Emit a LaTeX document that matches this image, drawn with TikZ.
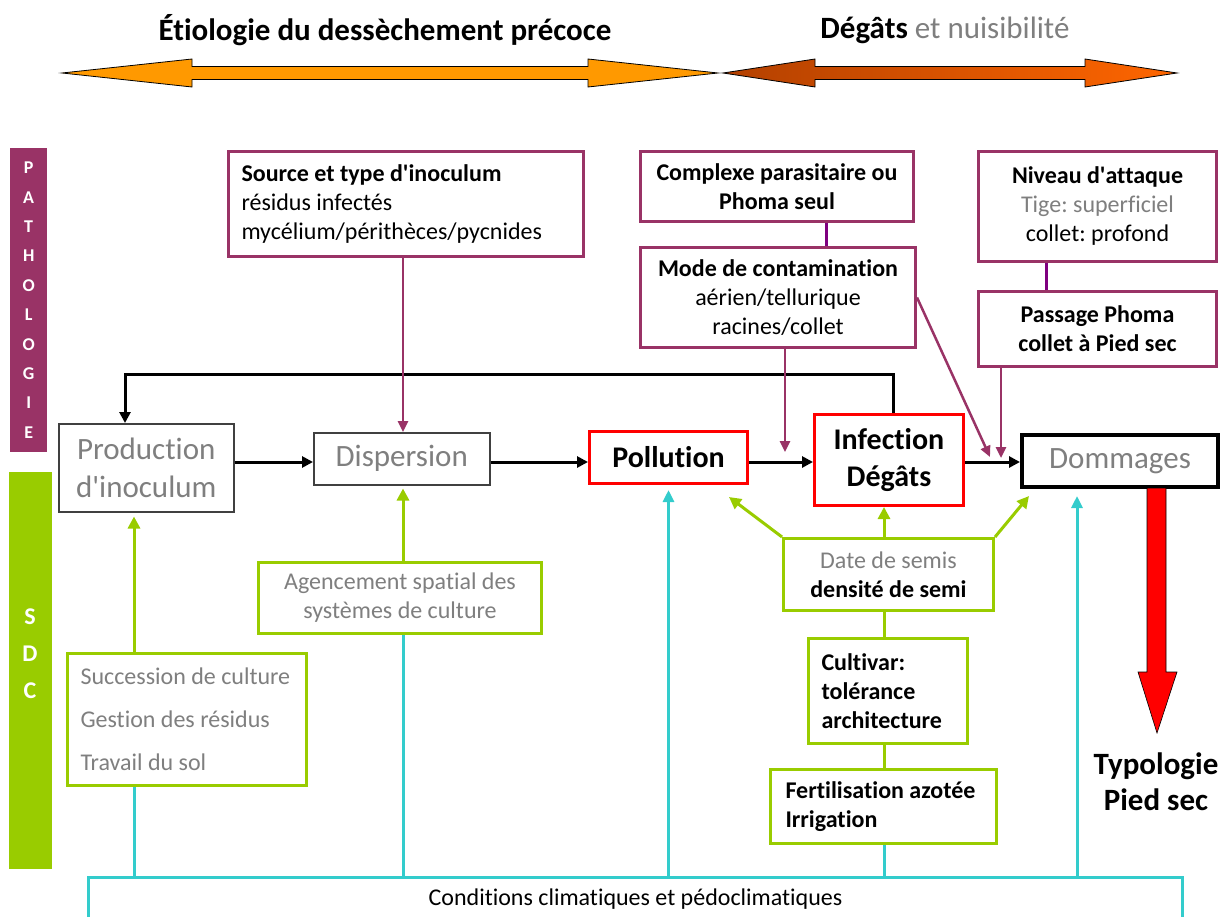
\documentclass[tikz,border=0pt]{standalone}
\usepackage{fontspec}
\setmainfont{Carlito}[RawFeature={-liga;-clig;-calt;-dlig}]
\usepackage{tikz}
\usetikzlibrary{arrows.meta,calc}
\usepackage{xcolor}

\definecolor{plum}{HTML}{993366}
\definecolor{linkpurple}{HTML}{7F007F}
\definecolor{sdcgreen}{HTML}{99CC00}
\definecolor{climcyan}{HTML}{33CCCC}
\definecolor{greytxt}{HTML}{7F7F7F}
\definecolor{etioorange}{HTML}{FF9900}
\definecolor{degatsdark}{HTML}{B34000}
\definecolor{degatslight}{HTML}{FF6600}

\newcommand{\q}{\textquotesingle}
\frenchspacing

\begin{document}
\begin{tikzpicture}[x=1pt, y=-1pt,
    every node/.style={inner sep=0pt},
    pathobox/.style={draw=plum, line width=3pt, fill=white, anchor=north west, align=flush center, font=\fontsize{24}{29}\selectfont},
    sdcbox/.style={draw=sdcgreen, line width=3pt, fill=white, anchor=north west, align=flush center, font=\fontsize{24}{29}\selectfont},
    stepbox/.style={draw=black!75, line width=1.5pt, fill=white, anchor=north west, align=flush center, text=greytxt, font=\fontsize{31}{38}\selectfont},
    keybox/.style={draw=red, line width=3pt, fill=white, anchor=north west, align=flush center, font=\bfseries\fontsize{30}{37}\selectfont},
    flow/.style={line width=3pt, -{Triangle[length=11pt,width=11pt]}},
    pathoarrow/.style={draw=plum, line width=2.5pt, -{Triangle[length=11pt,width=10pt]}},
    patholine/.style={draw=linkpurple, line width=3pt},
    sdcarrow/.style={draw=sdcgreen, line width=3pt, -{Triangle[length=12pt,width=12pt]}},
    sdcline/.style={draw=sdcgreen, line width=3pt},
    climline/.style={draw=climcyan, line width=3pt},
    climarrow/.style={draw=climcyan, line width=3pt, -{Triangle[length=12pt,width=11pt]}, shorten >=5pt}]

    \useasboundingbox (0,0) rectangle (1226,917);

    % Banners
    \node[font=\bfseries\fontsize{31}{36}\selectfont] (etio) at (385,30) {Étiologie du dessèchement précoce};
    \node[font=\fontsize{31}{36}\selectfont] (degats) at (945,30) {\textbf{Dégâts} \textcolor{greytxt}{et nuisibilité}};

    \filldraw[fill=etioorange, draw=black, line width=0.8pt] (62,73) -- (192,59) -- (192,66.5) -- (588,66.5) -- (588,59) -- (718,73) -- (588,87) -- (588,79.5) -- (192,79.5) -- (192,87) -- cycle;
    \shadedraw[left color=degatsdark, right color=degatslight, draw=black, line width=0.8pt] (723,73) -- (815,59) -- (815,66.5) -- (1085,66.5) -- (1085,59) -- (1177,73) -- (1085,87) -- (1085,79.5) -- (815,79.5) -- (815,87) -- cycle;

    % Side bars
    \node[fill=plum, minimum width=37pt, minimum height=304pt, anchor=north west] (pathobar) at (10,148) {};
    \node[text=white, align=center, font=\bfseries\fontsize{18}{29.4}\selectfont] (pathoword) at (pathobar.center) {P\\A\\T\\H\\O\\L\\O\\G\\I\\E};
    \node[fill=sdcgreen, minimum width=43pt, minimum height=397pt, anchor=north west] (sdcbar) at (9,472) {};
    \node[text=white, align=center, font=\bfseries\fontsize{24}{37}\selectfont] (sdcword) at (30,654) {S\\D\\C};

    % Pathologie boxes
    \node[pathobox, align=flush left, inner xsep=13pt, text width=329pt, minimum height=105pt] (source) at (227,150) {\textbf{Source et type d\q inoculum}\\résidus infectés\\mycélium/périthèces/pycnides};
    \node[pathobox, font=\bfseries\fontsize{24}{29}\selectfont, minimum width=273pt, minimum height=70pt] (complexe) at (639,150) {Complexe parasitaire ou\\Phoma seul};
    \node[pathobox, minimum width=275pt, minimum height=100pt] (mode) at (639,246) {\textbf{Mode de contamination}\\aérien/tellurique\\racines/collet};
    \node[pathobox, minimum width=238pt, minimum height=110pt, yshift=3pt] (niveau) at (977,153) {\textbf{Niveau d\q attaque}\\\textcolor{greytxt}{Tige: superficiel}\\collet: profond};
    \node[pathobox, font=\bfseries\fontsize{24}{29}\selectfont, minimum width=238pt, minimum height=75pt] (passage) at (977,290) {Passage Phoma\\collet à Pied sec};

    % Main chain
    \node[stepbox, minimum width=175pt, minimum height=88pt] (prod) at (58,423) {Production\\d\q inoculum};
    \node[stepbox, minimum width=176pt, minimum height=52pt] (disp) at (313,432) {Dispersion};
    \node[keybox, minimum width=158pt, minimum height=52pt] (poll) at (588,430) {Pollution};
    \node[keybox, minimum width=149pt, minimum height=91pt] (infe) at (813,413) {Infection\\Dégâts};
    \node[stepbox, draw=black, line width=4pt, minimum width=196pt, minimum height=52pt] (domm) at (1020,433) {Dommages};

    % SDC boxes
    \node[sdcbox, text=greytxt, minimum width=283pt, minimum height=71pt] (agenc) at (257,561) {Agencement spatial des\\systèmes de culture};
    \node[sdcbox, align=flush left, text=greytxt, font=\fontsize{24}{43}\selectfont, inner xsep=13pt, text width=213pt, minimum height=132pt] (succ) at (66,652) {Succession de culture\\Gestion des résidus\\Travail du sol};
    \node[sdcbox, minimum width=210pt, minimum height=72pt] (date) at (782,537) {\textcolor{greytxt}{Date de semis}\\\textbf{densité de semi}};
    \node[sdcbox, align=flush left, font=\bfseries\fontsize{24}{29}\selectfont, inner xsep=13pt, text width=133pt, minimum height=105pt] (cult) at (807,637) {Cultivar:\\tolérance\\architecture};
    \node[sdcbox, align=flush left, font=\bfseries\fontsize{24}{29}\selectfont, inner xsep=15pt, text width=196pt, minimum height=74pt] (fert) at (769,768) {Fertilisation azotée\\Irrigation};

    % Climate
    \node[draw=climcyan, line width=3pt, anchor=north west, font=\fontsize{24}{28}\selectfont, minimum width=1094pt, minimum height=44pt] (cond) at (87,876) {Conditions climatiques et pédoclimatiques};

    % Typologie
    \filldraw[fill=red, draw=black, line width=0.6pt] (1147,488) -- (1166,488) -- (1166,672) -- (1177,672) -- (1157,733) -- (1138,672) -- (1147,672) -- cycle;
    \node[align=center, font=\bfseries\fontsize{31}{36}\selectfont] (typo) at (1156,782) {Typologie\\Pied sec};

    % Helper coordinates
    \coordinate (row) at (0,462);
    \coordinate (colA) at (134,0);
    \coordinate (colB) at (403,0);
    \coordinate (colD) at (884,0);
    \coordinate (colE) at (1077,0);
    \coordinate (colP) at (826,0);
    \coordinate (colN) at (1046,0);
    \coordinate (loopR) at (893,374);
    \coordinate (loopL) at (125,374);
    \coordinate (contam) at (785,452);
    \coordinate (attaque) at (990,457);
    \coordinate (passe) at (1001,458);
    \coordinate (semisL) at (729,497);
    \coordinate (semisR) at (1029,496);

    % Main flow
    \draw[flow] (prod.east |- row) -- (disp.west |- row);
    \draw[flow] (disp.east |- row) -- (poll.west |- row);
    \draw[flow] (poll.east |- row) -- (infe.west |- row);
    \draw[flow] (infe.east |- row) -- (domm.west |- row);
    \draw[flow] (infe.north -| loopR) -- (loopR) -- (loopL) -- (prod.north -| loopL);

    % Pathologie links
    \draw[pathoarrow] (source.south -| colB) -- (disp.north -| colB);
    \draw[patholine] (complexe.south -| colP) -- (mode.north -| colP);
    \draw[pathoarrow] (mode.south -| contam) -- (contam);
    \draw[pathoarrow] (mode.east) -- (attaque);
    \draw[patholine] (niveau.south -| colN) -- (passage.north -| colN);
    \draw[pathoarrow] (passage.south -| passe) -- (passe);

    % SDC links
    \draw[sdcarrow, shorten >=4pt] (succ.north -| colA) -- (prod.south -| colA);
    \draw[sdcarrow, shorten >=3pt] (agenc.north -| colB) -- (disp.south -| colB);
    \draw[sdcarrow] (date.north west) -- (semisL);
    \draw[sdcarrow] (date.north -| colD) -- (infe.south -| colD);
    \draw[sdcarrow] (date.north east) -- (semisR);
    \draw[sdcline] (date.south -| colD) -- (cult.north -| colD);
    \draw[sdcline] (cult.south -| colD) -- (fert.north -| colD);

    % Climate links
    \draw[climline] (cond.north -| colA) -- (succ.south -| colA);
    \draw[climline] (cond.north -| colB) -- (agenc.south -| colB);
    \draw[climarrow] (cond.north -| poll.south) -- (poll.south);
    \draw[climline] (cond.north -| colD) -- (fert.south -| colD);
    \draw[climarrow, shorten >=7pt] (cond.north -| colE) -- (domm.south -| colE);
\end{tikzpicture}
\end{document}
